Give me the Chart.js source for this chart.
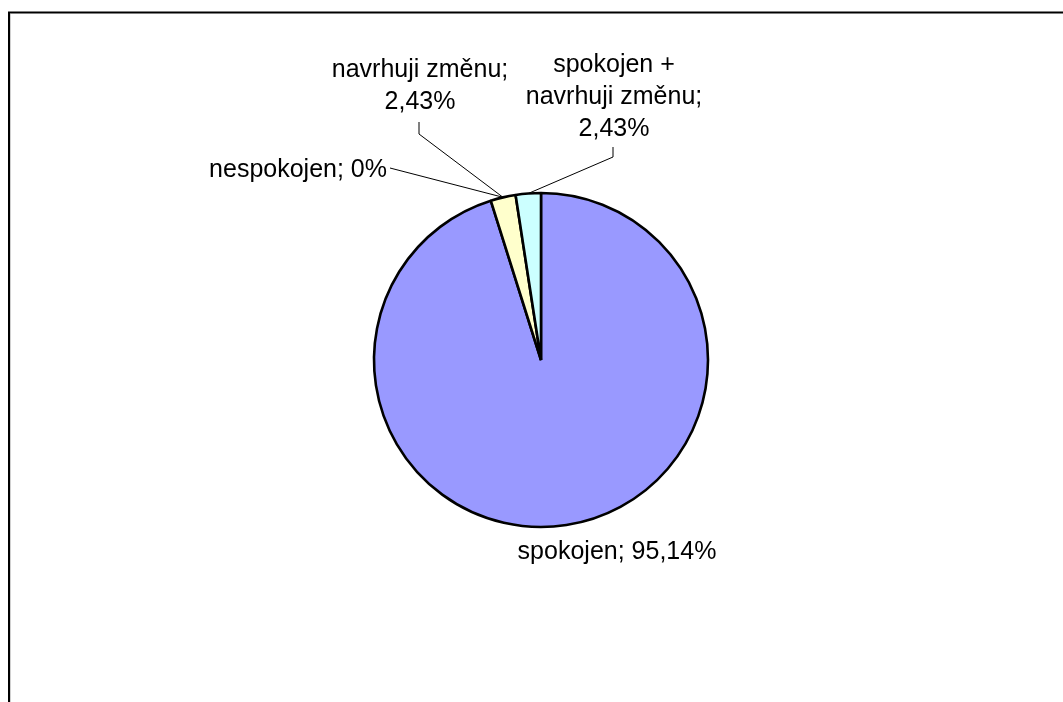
<!DOCTYPE html>
<html>
<head>
<meta charset="utf-8">
<script src="https://cdn.jsdelivr.net/npm/chart.js@4/dist/chart.umd.min.js"></script>
<style>
  html, body { margin: 0; padding: 0; background: #fff; }
  #wrap { width: 1063px; height: 702px; }
</style>
</head>
<body>
<div id="wrap"><canvas id="graf" width="1063" height="702"></canvas></div>
<script>
// Dados do gráfico
const kategorie = ['spokojen', 'nespokojen', 'navrhuji změnu', 'spokojen + navrhuji změnu'];
const hodnoty = [95.14, 0, 2.43, 2.43];
const barvy = ['#9999FF', '#FFFFCC', '#FFFFCC', '#CCFFFF'];

// Quebras de linha dos rótulos
const radkyPopisku = [
    ['spokojen; '],
    ['nespokojen; '],
    ['navrhuji změnu;', ''],
    ['spokojen +', 'navrhuji změnu;', '']
];

// Posição dos rótulos relativa ao centro da pizza (layout, não dados)
const rozlozeni = [
    { dx: 76, dy: 199, align: 'center', leader: null },
    { dx: -154, dy: -183, align: 'right', leader: { from: [-151, -192], bend: null, angleShift: 4.4 } },
    { dx: -121, dy: -283, align: 'center', leader: { from: [-122, -238], bend: [-122, -226], angleShift: 0 } },
    { dx: 73, dy: -288, align: 'center', leader: { from: [72, -213], bend: [72, -203], angleShift: 0 } }
];

const PISMO = '25px "Liberation Sans", Arial, sans-serif';
const RADEK = 32;

function formatProcent(v) {
    if (Number.isInteger(v)) return v + '%';
    return v.toFixed(2).replace('.', ',') + '%';
}

// Plugin: moldura + rótulos com linhas de chamada
const popiskyPlugin = {
    id: 'popisky',
    beforeDraw(chart) {
        const c = chart.ctx;
        c.save();
        c.strokeStyle = '#d0d0d0';
        c.lineWidth = 1;
        c.beginPath();
        c.moveTo(10.5, 14);
        c.lineTo(10.5, 702);
        c.stroke();
        c.strokeStyle = '#000';
        c.lineWidth = 2;
        c.beginPath();
        c.moveTo(9, 702);
        c.lineTo(9, 12.5);
        c.lineTo(1063, 12.5);
        c.stroke();
        c.restore();
    },
    afterDraw(chart) {
        const c = chart.ctx;
        const meta = chart.getDatasetMeta(0);
        c.save();
        c.font = PISMO;
        c.fillStyle = '#000';
        c.strokeStyle = '#000';
        c.lineWidth = 1;
        meta.data.forEach(function (arc, i) {
            const cx = arc.x, cy = arc.y, r = arc.outerRadius;
            const l = rozlozeni[i];
            // texto
            const radky = radkyPopisku[i].slice();
            radky[radky.length - 1] += formatProcent(hodnoty[i]);
            c.textAlign = l.align;
            c.textBaseline = 'alphabetic';
            radky.forEach(function (t, k) {
                c.fillText(t, cx + l.dx, cy + l.dy + k * RADEK);
            });
            // linha de chamada até a borda da fatia
            if (l.leader) {
                const stred = (arc.startAngle + arc.endAngle) / 2 + l.leader.angleShift * Math.PI / 180;
                const ax = cx + Math.cos(stred) * r;
                const ay = cy + Math.sin(stred) * r;
                c.beginPath();
                c.moveTo(cx + l.leader.from[0], cy + l.leader.from[1]);
                if (l.leader.bend) c.lineTo(cx + l.leader.bend[0], cy + l.leader.bend[1]);
                c.lineTo(ax, ay);
                c.stroke();
            }
        });
        c.restore();
    }
};

const ctx = document.getElementById('graf').getContext('2d');
const graf = new Chart(ctx, {
    type: 'pie',
    data: {
        labels: kategorie,
        datasets: [{
            data: hodnoty,
            backgroundColor: barvy,
            borderColor: '#000',
            borderWidth: 2.6
        }]
    },
    options: {
        responsive: false,
        animation: false,
        radius: 167,
        layout: { padding: { left: 341, right: 322, top: 160, bottom: 142 } },
        plugins: {
            legend: { display: false },
            tooltip: { enabled: false }
        }
    },
    plugins: [popiskyPlugin]
});
</script>
</body>
</html>
